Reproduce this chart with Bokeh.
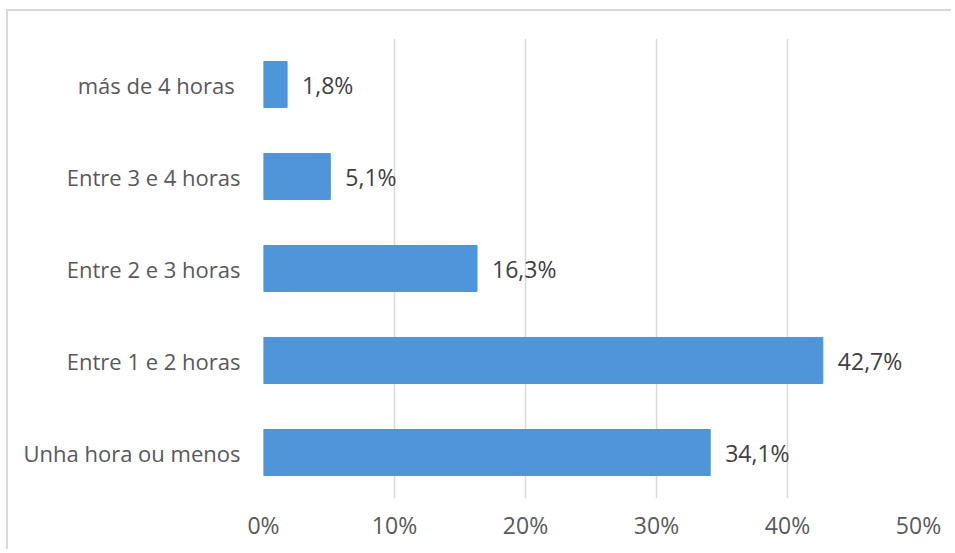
from bokeh.plotting import figure
from bokeh.models import ColumnDataSource, FactorRange, Range1d, PrintfTickFormatter, FixedTicker
from bokeh.core.properties import value
from bokeh.embed import file_html
from bokeh.resources import INLINE

categories = ["Unha hora ou menos", "Entre 1 e 2 horas", "Entre 2 e 3 horas", "Entre 3 e 4 horas", "más de 4 horas "]
values = [34.1, 42.7, 16.3, 5.1, 1.8]
x_ticks = [0, 10, 20, 30, 40, 50]

labels = [f"{v:.1f}".replace(".", ",") + "%" for v in values]
src = ColumnDataSource(dict(cat=categories, val=values, lab=labels))

FONT = "Open Sans"

p = figure(width=945, height=540, output_backend="svg", toolbar_location=None,
           y_range=FactorRange(*categories, range_padding=0),
           x_range=Range1d(0, 50),
           min_border_left=255, min_border_right=35, min_border_top=27, min_border_bottom=53)
p.styles = {"margin-top": "9px", "margin-left": "6px",
            "border-top": "2px solid #d9d9d9", "border-left": "2px solid #d9d9d9"}

p.hbar(y="cat", right="val", left=0, height=0.5, source=src, fill_color="#4E95D9", line_color="#4E95D9")
p.text(x="val", y="cat", text="lab", source=src, x_offset=15, text_align="left", text_baseline="middle",
       text_font=value(FONT), text_font_size="23px", text_color="#404040")

p.outline_line_color = None
p.ygrid.grid_line_color = None
p.xgrid.grid_line_color = "#d9d9d9"
p.xgrid.grid_line_width = 1.5
p.xaxis.ticker = FixedTicker(ticks=x_ticks)
p.xaxis.formatter = PrintfTickFormatter(format="%d%%")
for ax in (p.xaxis[0], p.yaxis[0]):
    ax.axis_line_color = None
    ax.major_tick_line_color = None
    ax.minor_tick_line_color = None
    ax.major_label_text_font = FONT
    ax.major_label_text_color = "#595959"
p.xaxis.major_label_text_font_size = "23px"
p.yaxis.major_label_text_font_size = "22px"
p.xaxis.major_label_standoff = 4
p.yaxis.major_label_standoff = 17

open("out.html", "w").write(file_html(p, INLINE))
